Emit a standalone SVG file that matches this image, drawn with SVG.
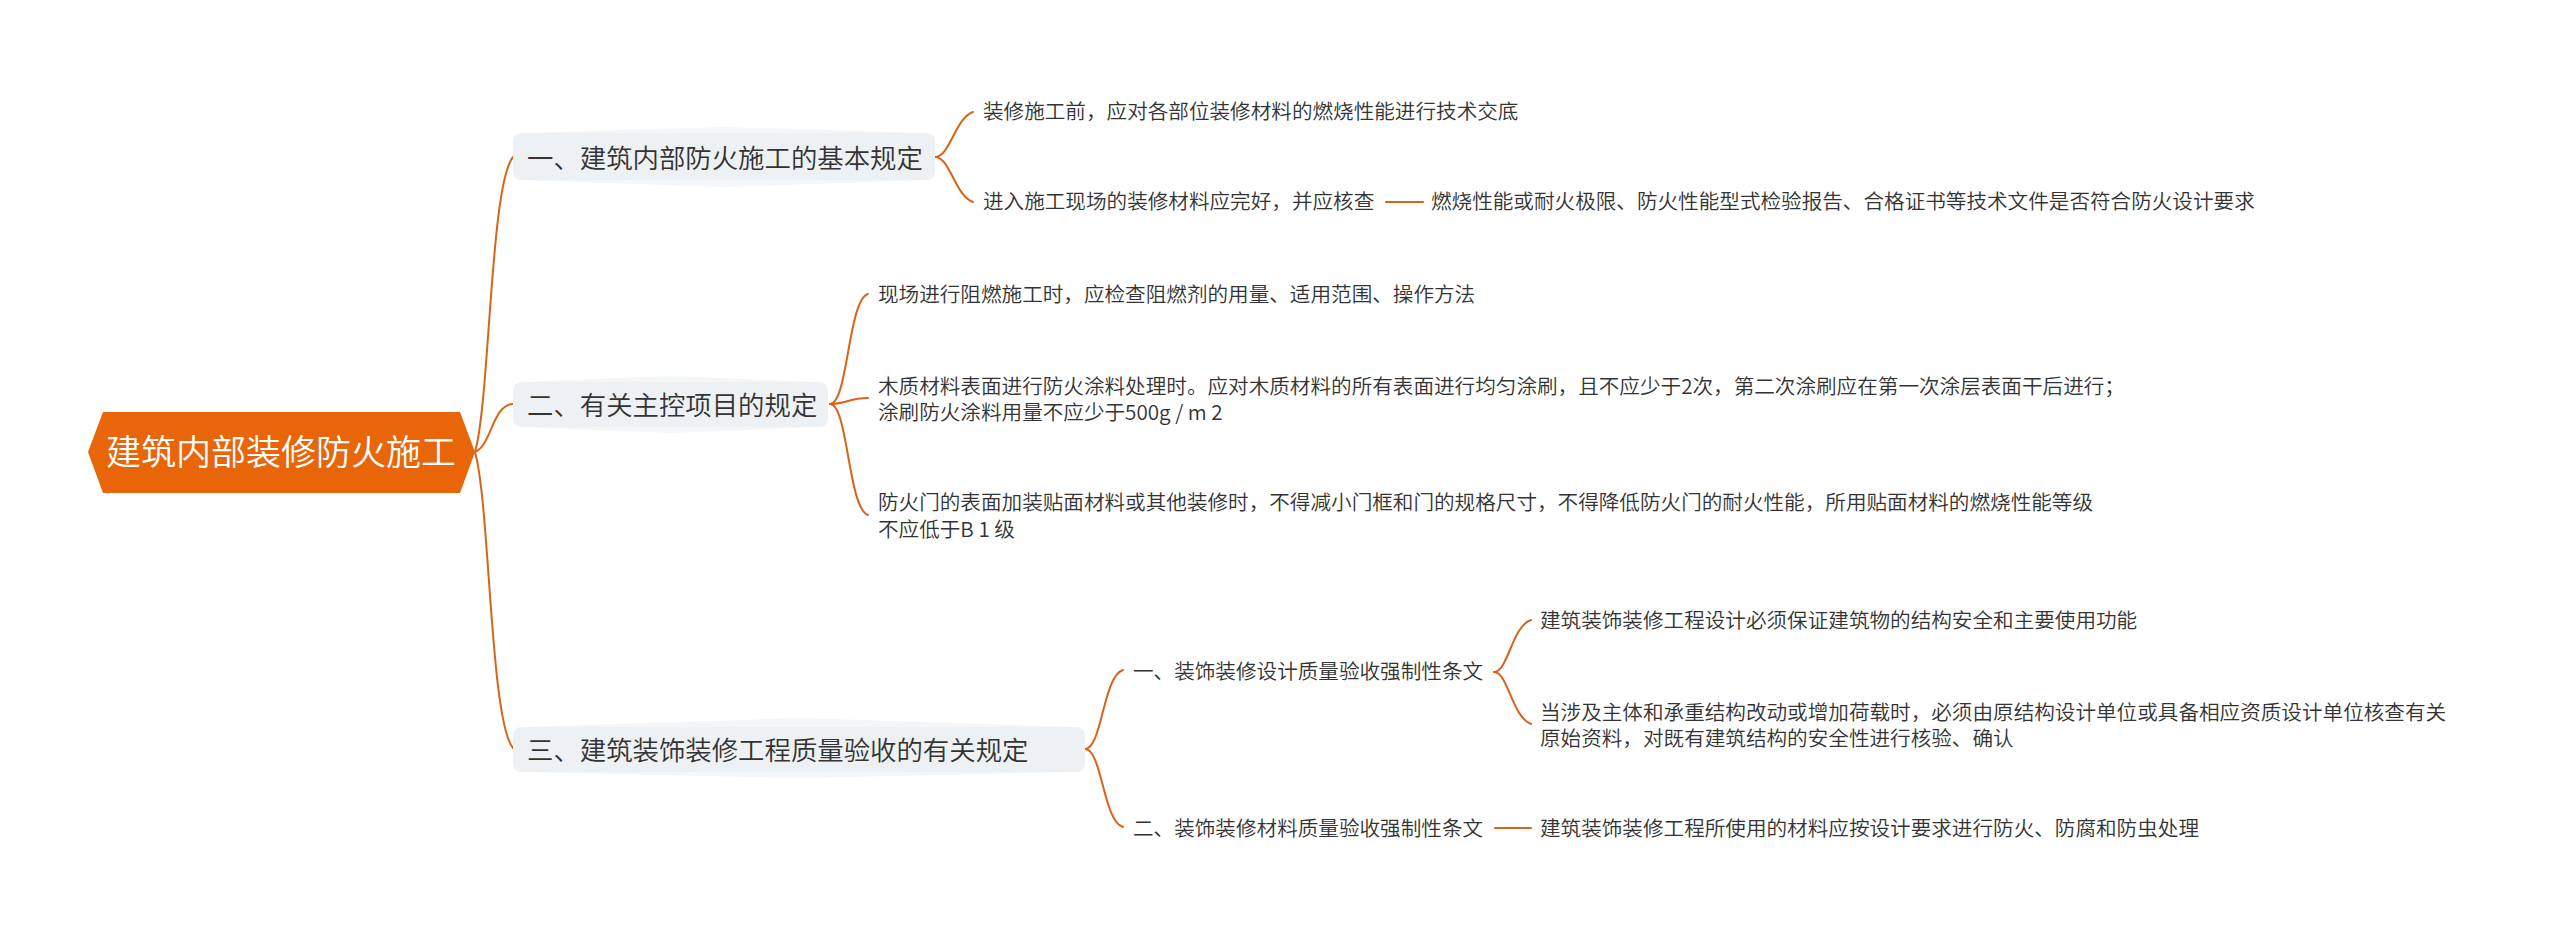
<svg xmlns="http://www.w3.org/2000/svg" width="2560" height="939" viewBox="0 0 2560 939">
<style>
text{font-family:"Noto Sans CJK SC","Noto Sans",sans-serif;fill:#333333;font-weight:350}
.root{font-size:35px;fill:#ffffff}
.b{font-size:26.4px}
.c{font-size:20.6px}
.line{fill:none;stroke:#d8641c;stroke-width:2;stroke-linecap:round}
.box{fill:#eef1f4}
.hex{fill:#f4f6f8}
</style>
<rect width="2560" height="939" fill="#ffffff"/>
<g id="connectors">
<path class="line" d="M 475 452 C 490 400, 490 185, 513 157"/>
<path class="line" d="M 475 452 C 492 445, 492 405, 513 404"/>
<path class="line" d="M 475 452 C 490 505, 490 720, 513 748"/>
<path class="line" d="M 935 157 C 950 157, 955 118, 973 112"/>
<path class="line" d="M 935 157 C 950 157, 955 196, 973 202"/>
<path class="line" d="M 1386 202 L 1423 202"/>
<path class="line" d="M 830 404 C 848 404, 848 300, 868 294"/>
<path class="line" d="M 830 404 C 845 404, 850 398, 868 398"/>
<path class="line" d="M 830 404 C 848 404, 848 508, 868 515"/>
<path class="line" d="M 1085 749 C 1102 749, 1103 676, 1123 670"/>
<path class="line" d="M 1085 749 C 1102 749, 1103 821, 1123 827"/>
<path class="line" d="M 1494 672 C 1508 672, 1512 626, 1531 620"/>
<path class="line" d="M 1494 672 C 1508 672, 1512 717, 1531 724"/>
<path class="line" d="M 1495 828 L 1531 828"/>
</g>
<g id="root">
<polygon points="88,452 103,412 460,412 475,452 460,493 103,493" fill="#e8650a"/>
<text class="root" x="106" y="465">建筑内部装修防火施工</text>
</g>
<g id="b1">
<polygon class="hex" points="521,133 724,127 927,133 927,180 724,187 521,180"/>
<rect class="box" x="513" y="133" width="422" height="47" rx="8"/>
<text class="b" x="527" y="167.5">一、建筑内部防火施工的基本规定</text>
</g>
<g id="b1c1"><text class="c" x="983" y="119.4">装修施工前，应对各部位装修材料的燃烧性能进行技术交底</text></g>
<g id="b1c2"><text class="c" x="983" y="209.4">进入施工现场的装修材料应完好，并应核查</text></g>
<g id="b1c2c1"><text class="c" x="1431" y="209.4">燃烧性能或耐火极限、防火性能型式检验报告、合格证书等技术文件是否符合防火设计要求</text></g>
<g id="b2">
<polygon class="hex" points="521,382 670,376 820,382 820,427 670,433 521,427"/>
<rect class="box" x="513" y="382" width="315" height="45" rx="8"/>
<text class="b" x="527" y="414.5">二、有关主控项目的规定</text>
</g>
<g id="b2c1"><text class="c" x="878" y="302.4">现场进行阻燃施工时，应检查阻燃剂的用量、适用范围、操作方法</text></g>
<g id="b2c2"><text class="c" x="878" y="394.4">木质材料表面进行防火涂料处理时。应对木质材料的所有表面进行均匀涂刷，且不应少于2次，第二次涂刷应在第一次涂层表面干后进行；</text><text class="c" x="878" y="420.4">涂刷防火涂料用量不应少于500g / m 2</text></g>
<g id="b2c3"><text class="c" x="878" y="510.4">防火门的表面加装贴面材料或其他装修时，不得减小门框和门的规格尺寸，不得降低防火门的耐火性能，所用贴面材料的燃烧性能等级</text><text class="c" x="878" y="537.4">不应低于B 1 级</text></g>
<g id="b3">
<polygon class="hex" points="521,727 799,718 1077,727 1077,772 799,778 521,772"/>
<rect class="box" x="513" y="727" width="572" height="45" rx="8"/>
<text class="b" x="527" y="759.5">三、建筑装饰装修工程质量验收的有关规定</text>
</g>
<g id="b3c1"><text class="c" x="1133" y="679.4">一、装饰装修设计质量验收强制性条文</text></g>
<g id="b3c1c1"><text class="c" x="1540" y="628.4">建筑装饰装修工程设计必须保证建筑物的结构安全和主要使用功能</text></g>
<g id="b3c1c2"><text class="c" x="1540" y="720.4">当涉及主体和承重结构改动或增加荷载时，必须由原结构设计单位或具备相应资质设计单位核查有关</text><text class="c" x="1540" y="746.4">原始资料，对既有建筑结构的安全性进行核验、确认</text></g>
<g id="b3c2"><text class="c" x="1133" y="836.4">二、装饰装修材料质量验收强制性条文</text></g>
<g id="b3c2c1"><text class="c" x="1540" y="836.4">建筑装饰装修工程所使用的材料应按设计要求进行防火、防腐和防虫处理</text></g>
</svg>
